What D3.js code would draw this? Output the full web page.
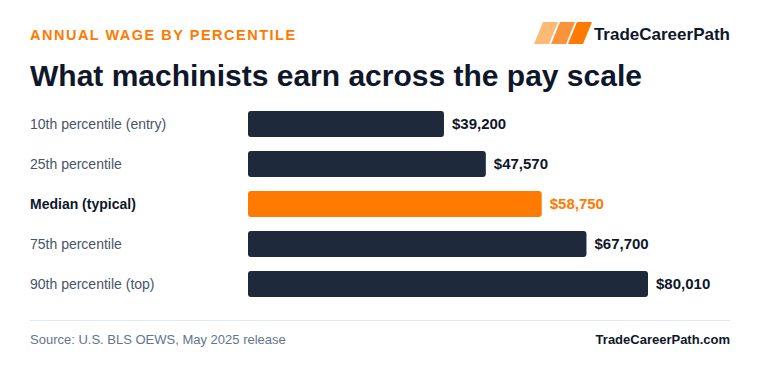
<!DOCTYPE html>
<html>
<head>
<meta charset="utf-8">
<script src="https://cdn.jsdelivr.net/npm/d3@7"></script>
<style>
  body { margin: 0; background: #fff; }
  svg { display: block; font-family: "Liberation Sans", Arial, sans-serif; }
</style>
</head>
<body>
<div id="chart"></div>
<script>
// wage percentiles, machinists
var labels = ["10th percentile (entry)", "25th percentile", "Median (typical)", "75th percentile", "90th percentile (top)"];
var wages = [39200, 47570, 58750, 67700, 80010];
var highlight = [false, false, true, false, false];

var w = 760, h = 376;
var orange = "#ff7a00";
var navy = "#1e293b";
var ink = "#0f172a";

var svg = d3.select("#chart").append("svg")
  .attr("width", w)
  .attr("height", h);

svg.append("rect").attr("width", w).attr("height", h).attr("fill", "#fff");

// header
svg.append("text")
  .attr("x", 30).attr("y", 40)
  .attr("fill", orange)
  .attr("font-size", 14.5)
  .attr("font-weight", 700)
  .attr("letter-spacing", 1.5)
  .text("ANNUAL WAGE BY PERCENTILE");

svg.append("text")
  .attr("x", 30).attr("y", 86)
  .attr("fill", ink)
  .attr("font-size", 30)
  .attr("font-weight", 700)
  .text("What machinists earn across the pay scale");

// logo marks
var logoColors = ["#fdba74", "#fb923c", orange];
svg.selectAll("path.logo")
  .data(logoColors)
  .enter().append("path")
  .attr("class", "logo")
  .attr("fill", function(d) { return d; })
  .attr("d", function(d, i) {
    var x0 = 534 + i * 17;
    return "M" + (x0 + 9) + ",22 L" + (x0 + 24) + ",22 L" + (x0 + 15) + ",44 L" + x0 + ",44 Z";
  });

svg.append("text")
  .attr("x", 730).attr("y", 40)
  .attr("text-anchor", "end")
  .attr("fill", ink)
  .attr("font-size", 17)
  .attr("font-weight", 700)
  .text("TradeCareerPath");

// scales
var xScale = d3.scaleLinear()
  .domain([0, d3.max(wages)])
  .range([248, 648]);

var yScale = d3.scaleBand()
  .domain(labels)
  .range([104, 304])
  .paddingInner(0.35)
  .paddingOuter(0.175);

var rows = labels.map(function(d, i) {
  return { label: d, value: wages[i], hi: highlight[i] };
});

var g = svg.append("g");

g.selectAll("rect.bar")
  .data(rows)
  .enter().append("rect")
  .attr("class", "bar")
  .attr("x", xScale(0))
  .attr("y", function(d) { return yScale(d.label); })
  .attr("width", function(d) { return xScale(d.value) - xScale(0); })
  .attr("height", yScale.bandwidth())
  .attr("rx", 3)
  .attr("fill", function(d) { return d.hi ? orange : navy; });

g.selectAll("text.cat")
  .data(rows)
  .enter().append("text")
  .attr("class", "cat")
  .attr("x", 30)
  .attr("y", function(d) { return yScale(d.label) + yScale.bandwidth() / 2; })
  .attr("dy", "0.35em")
  .attr("font-size", 14)
  .attr("font-weight", function(d) { return d.hi ? 700 : 400; })
  .attr("fill", function(d) { return d.hi ? ink : "#475569"; })
  .text(function(d) { return d.label; });

g.selectAll("text.val")
  .data(rows)
  .enter().append("text")
  .attr("class", "val")
  .attr("x", function(d) { return xScale(d.value) + 8; })
  .attr("y", function(d) { return yScale(d.label) + yScale.bandwidth() / 2; })
  .attr("dy", "0.35em")
  .attr("font-size", 15)
  .attr("font-weight", 700)
  .attr("fill", function(d) { return d.hi ? orange : ink; })
  .text(function(d) { return "$" + d3.format(",")(d.value); });

// footer
svg.append("line")
  .attr("x1", 30).attr("x2", 730)
  .attr("y1", 320.5).attr("y2", 320.5)
  .attr("stroke", "#e2e8f0");

svg.append("text")
  .attr("x", 30).attr("y", 344)
  .attr("fill", "#64748b")
  .attr("font-size", 13)
  .text("Source: U.S. BLS OEWS, May 2025 release");

svg.append("text")
  .attr("x", 730).attr("y", 344)
  .attr("text-anchor", "end")
  .attr("fill", ink)
  .attr("font-size", 13)
  .attr("font-weight", 700)
  .text("TradeCareerPath.com");
</script>
</body>
</html>
